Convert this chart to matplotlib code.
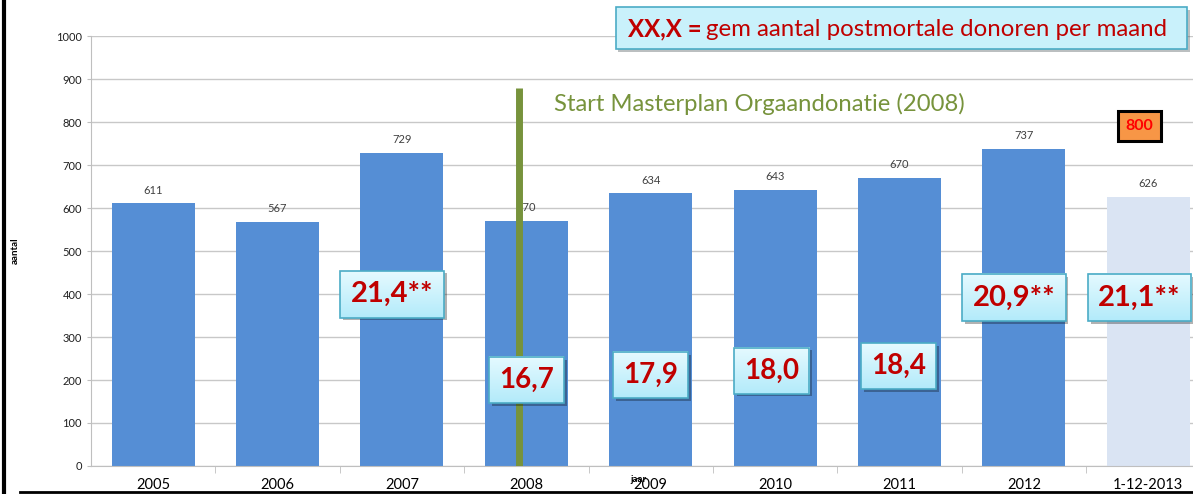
import numpy as np
import matplotlib.pyplot as plt
from matplotlib.patches import Rectangle
from matplotlib import patheffects
from matplotlib.transforms import ScaledTranslation

plt.rcParams['font.family'] = ['Lato', 'DejaVu Sans']

## data
jaren = ['2005', '2006', '2007', '2008', '2009', '2010', '2011', '2012', '1-12-2013']
aantal = [611, 567, 729, 570, 634, 643, 670, 737, 626]
gem_per_maand = ['21,4**', '16,7', '17,9', '18,0', '18,4', '20,9**', '21,1**']
# where the boxes sit (category position, height in chart units)
box_x = [1.92, 3.0, 4.0, 4.97, 5.99, 6.92, 7.93]
box_y = [400, 200, 212, 222, 232, 392, 392]
prognose = '800'

blue = '#558ED5'
light = '#DAE4F3'
green = '#77933C'
red = '#C00000'

fig = plt.figure(figsize=(11.93, 4.94), dpi=100)
ax = fig.add_axes([0.0763, 0.0567, 0.9237, 0.8703])

x = np.arange(len(jaren))
colors = [blue] * (len(jaren) - 1) + [light]
ax.bar(x, aantal, width=0.667, color=colors, zorder=2)
for xi, v in zip(x, aantal):
    ax.text(xi, v + 18, str(v), ha='center', va='bottom', fontsize=8, color='#404040', zorder=3)

ax.set_ylim(0, 1000)
ax.set_xlim(-0.5, 8.36)
ax.set_yticks(np.arange(0, 1001, 100))
ax.tick_params(axis='y', labelsize=8, length=3, color='#BFBFBF', labelcolor='#202020')
ax.set_xticks(x)
ax.set_xticklabels(jaren, fontsize=10.5)
ax.tick_params(axis='x', length=0, pad=9)
ax.set_xticks(np.arange(0.5, len(jaren) - 0.5, 1), minor=True)
ax.tick_params(axis='x', which='minor', length=5, color='#BFBFBF', direction='out')
ax.yaxis.grid(True, color='#C8C8C8', linewidth=1, zorder=0)
ax.set_axisbelow(True)
for s in ['top', 'right']:
    ax.spines[s].set_visible(False)
ax.spines['left'].set_color('#BFBFBF')
ax.spines['bottom'].set_color('#BFBFBF')

ax.set_ylabel('aantal', fontsize=7, fontweight='bold', labelpad=26)
fig.text(0.535, 0.025, 'jaar', fontsize=7, fontweight='bold', ha='center')

# Masterplan line
ax.plot([2.94, 2.94], [0, 880], color=green, linewidth=5, zorder=4, solid_capstyle='butt')
ax.text(3.22, 843, 'Start Masterplan Orgaandonatie (2008)', color=green, fontsize=17.2,
        va='center', ha='left', zorder=5)

# average-per-month boxes
boxes = []
for bx, by, lab in zip(box_x, box_y, gem_per_maand):
    fs = 21 if '*' in lab else 20
    t = ax.text(bx, by, lab, ha='center', va='center', fontsize=fs, fontweight='bold',
                color=red, zorder=7,
                bbox=dict(boxstyle='square,pad=0.36', facecolor='none', edgecolor='#4BACC6',
                          linewidth=1.2))
    boxes.append(t)

ax.text(7.93, 790, prognose, ha='center', va='center', fontsize=11.5, fontweight='bold',
        color='#FF0000', zorder=7,
        bbox=dict(boxstyle='square,pad=0.5', facecolor='#F79646', edgecolor='#000000',
                  linewidth=2.2))

# legend box at top
shadow = [patheffects.withSimplePatchShadow(offset=(2, -2), alpha=0.35)]
top = Rectangle((0.516, 0.90), 0.479, 0.085, transform=fig.transFigure, clip_on=False,
                facecolor='#C9F1FB', edgecolor='#4BACC6', linewidth=1.2, zorder=8)
top.set_path_effects(shadow)
ax.add_patch(top)
ax.text(0.5265, 0.941, 'XX,X =', fontsize=17.3, fontweight='bold', color=red,
        ha='left', va='center', transform=fig.transFigure, zorder=9)
ax.text(0.5915, 0.941, 'gem aantal postmortale donoren per maand', fontsize=17.3, color=red,
        ha='left', va='center', transform=fig.transFigure, zorder=9)

# gradient fill + drop shadow behind the value boxes
fig.canvas.draw()
grad = np.linspace(0, 1, 64)[:, None]
c_top = np.array([0.90, 0.98, 1.0])
c_bot = np.array([0.70, 0.92, 0.98])
img = c_top[None, None, :] * (1 - grad[..., None]) + c_bot[None, None, :] * grad[..., None]
inv = ax.transData.inverted()
shift = ax.transData + ScaledTranslation(2 / 72, -2 / 72, fig.dpi_scale_trans)
for t in boxes:
    bb = t.get_bbox_patch().get_window_extent()
    (x0, y0), (x1, y1) = inv.transform([[bb.x0, bb.y0], [bb.x1, bb.y1]])
    ax.add_patch(Rectangle((x0, y0), x1 - x0, y1 - y0, transform=shift, facecolor='#000000',
                           alpha=0.3, edgecolor='none', zorder=6.8, clip_on=False))
    ax.imshow(img, extent=(x0, x1, y0, y1), aspect='auto', zorder=6.9,
              interpolation='bilinear', origin='upper', clip_on=False)
ax.set_xlim(-0.5, 8.36)
ax.set_ylim(0, 1000)

# slide frame
fig.add_artist(plt.Line2D([0.003, 0.003], [0, 1], color='black', linewidth=3))
fig.add_artist(plt.Line2D([0.017, 1], [0.004, 0.004], color='black', linewidth=2))

fig.savefig('out.png', dpi=100)
